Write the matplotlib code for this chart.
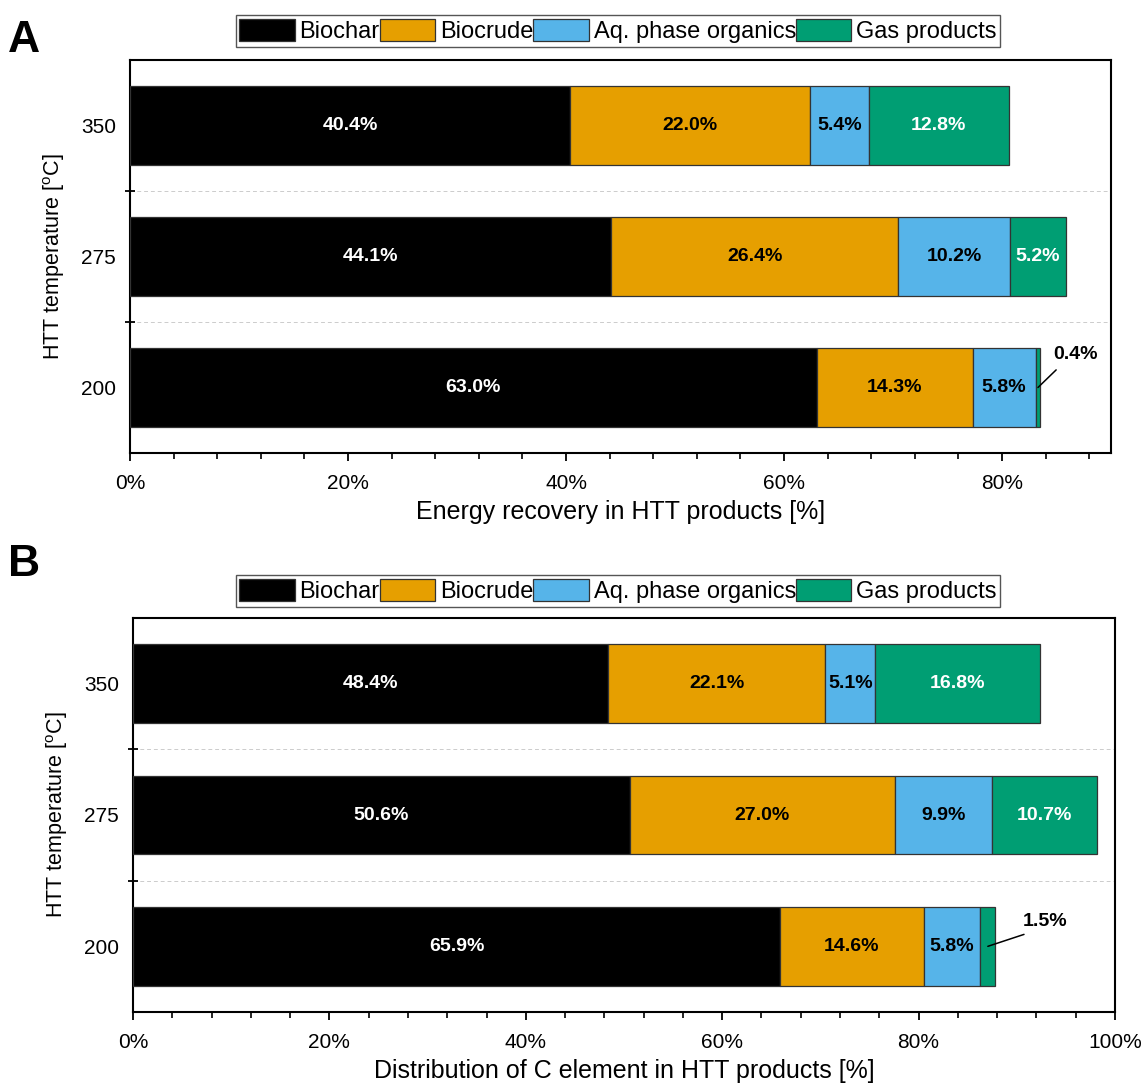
import matplotlib
matplotlib.use('Agg')
import matplotlib.pyplot as plt
from matplotlib.ticker import MultipleLocator, FuncFormatter
from matplotlib.patches import Patch
import numpy as np

plt.rcParams['font.family'] = ['Liberation Sans', 'DejaVu Sans']

temps = ['200', '275', '350']
products = ['Biochar', 'Biocrude', 'Aq. phase organics', 'Gas products']
colors = ['#000000', '#E69F00', '#56B4E9', '#009E73']
label_colors = ['white', 'black', 'black', 'white']

# energy recovery (%), rows follow temps
energy = {
    'Biochar': [63.0, 44.1, 40.4],
    'Biocrude': [14.3, 26.4, 22.0],
    'Aq. phase organics': [5.8, 10.2, 5.4],
    'Gas products': [0.4, 5.2, 12.8],
}
# distribution of C element (%)
carbon = {
    'Biochar': [65.9, 50.6, 48.4],
    'Biocrude': [14.6, 27.0, 22.1],
    'Aq. phase organics': [5.8, 9.9, 5.1],
    'Gas products': [1.5, 10.7, 16.8],
}

W, H = 1143, 1088
fig = plt.figure(figsize=(W / 100, H / 100), dpi=100)


def px_axes(left, top, right, bottom):
    return fig.add_axes([left / W, 1 - bottom / H, (right - left) / W, (bottom - top) / H])


def draw_panel(ax, data, xmax, xlabel, note_xy, note_rel):
    y = np.arange(len(temps))
    left = np.zeros(len(temps))
    for prod, c, lc in zip(products, colors, label_colors):
        vals = np.array(data[prod])
        ax.barh(y, vals, left=left, height=0.6, color=c, edgecolor='#333333',
                linewidth=0.9, zorder=3)
        for i, v in enumerate(vals):
            if v >= 2:
                ax.text(left[i] + v / 2, y[i], '%.1f%%' % v, ha='center', va='center',
                        color=lc, fontsize=14, fontweight='bold', zorder=4)
        left = left + vals
    # small gas share on the 200 row, labelled outside the bar
    gas = data['Gas products'][0]
    xend = left[0] - gas / 2
    ax.annotate('%.1f%%' % gas, xy=(xend, 0.0), xytext=note_xy,
                ha='center', va='center', fontsize=14, fontweight='bold',
                arrowprops=dict(arrowstyle='-', color='black', lw=1.1,
                                relpos=note_rel, shrinkA=4, shrinkB=0), zorder=5)

    ax.set_xlim(0, xmax)
    ax.set_ylim(-0.5, 2.5)
    ax.xaxis.set_major_locator(MultipleLocator(20))
    ax.xaxis.set_minor_locator(MultipleLocator(4))
    ax.xaxis.set_major_formatter(FuncFormatter(lambda v, p: '%d%%' % v))
    ax.set_yticks(y)
    ax.set_yticklabels(temps)
    ax.set_yticks([0.5, 1.5], minor=True)
    ax.tick_params(axis='y', which='major', length=0, labelsize=15, pad=10)
    ax.tick_params(axis='y', which='minor', length=7, width=1.3, direction='inout')
    ax.tick_params(axis='x', which='major', length=6, width=1.3, labelsize=15, pad=9)
    ax.tick_params(axis='x', which='minor', length=4, width=1.2)
    for yy in [0.5, 1.5]:
        ax.axhline(yy, color='#cccccc', lw=0.7, ls=(0, (4, 3)), zorder=1)
    for s in ax.spines.values():
        s.set_linewidth(1.5)
    ax.set_xlabel(xlabel, fontsize=18, labelpad=5)
    ax.set_ylabel('HTT temperature [$^\\mathregular{o}$C]', fontsize=15.5, labelpad=10)


def add_legend(yc):
    handles = [Patch(facecolor=c, edgecolor='#333333', linewidth=0.9) for c in colors]
    fig.legend(handles, products, loc='center', bbox_to_anchor=(618 / W, 1 - yc / H),
               ncol=4, fontsize=17, handlelength=2.35, handleheight=1.1,
               handletextpad=0.2, columnspacing=0.0, borderpad=0.15,
               fancybox=False, edgecolor='#555555', framealpha=1, borderaxespad=0)


ax1 = px_axes(130, 60, 1111, 453)
draw_panel(ax1, energy, 90, 'Energy recovery in HTT products [%]', (86.7, 0.25), (0.23, 0))
add_legend(31)

ax2 = px_axes(133, 618, 1115, 1012)
draw_panel(ax2, carbon, 100, 'Distribution of C element in HTT products [%]', (92.9, 0.19), (0.33, 0))
add_legend(591)

fig.text(8 / W, 1 - 40 / H, 'A', fontsize=32, fontweight='bold', va='center')
fig.text(8 / W, 1 - 565 / H, 'B', fontsize=32, fontweight='bold', va='center')

fig.savefig('out.png', dpi=100)
